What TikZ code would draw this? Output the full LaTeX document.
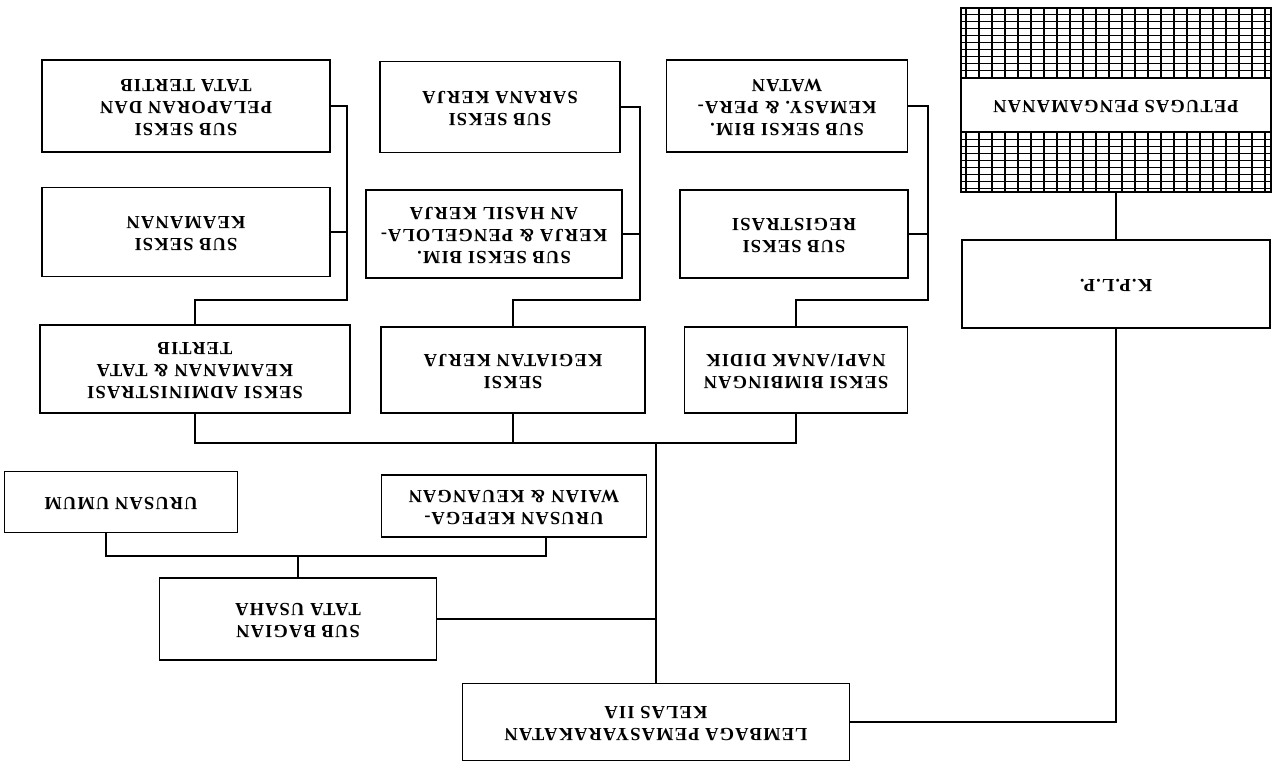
\documentclass[tikz,border=0pt]{standalone}
\usepackage{graphicx}
\usepackage{fontspec}
\newfontfamily\lab[LetterSpace=6]{Liberation Serif}
\renewcommand{\arraystretch}{1.0}
\newcommand{\ud}[1]{\rotatebox[origin=c]{180}{\begin{tabular}{@{}c@{}}#1\end{tabular}}}
\begin{document}
\begin{tikzpicture}[x=1pt,y=-1pt,
  box/.style={draw, line width=1.4pt, inner sep=0pt, fill=white,
    font=\lab\bfseries\fontsize{18.5}{22}\selectfont},
  conn/.style={line width=1.4pt}]
\useasboundingbox (0,0) rectangle (1287,771);
% ---- top row
\node[box, minimum width=288, minimum height=92] (pel) at (186,106) {\ud{SUB SEKSI\\PELAPORAN DAN\\TATA TERTIB}};
\node[box, minimum width=240, minimum height=91] (sar) at (500,107) {\ud{SUB SEKSI\\SARANA KERJA}};
\node[box, minimum width=241, minimum height=92] (kem) at (787,106) {\ud{SUB SEKSI BIM.\\KEMASY. \& PERA-\\WATAN}};
% petugas with grid
\node[draw, line width=1.4pt, minimum width=310, minimum height=184, inner sep=0pt] (pet) at (1116,100) {};
\begin{scope}
\clip (pet.north west) rectangle (pet.south east);
\foreach \x in {966,979,...,1270} \draw[line width=1.5pt] (\x,0) -- (\x,200);
\foreach \y in {14,21,...,78} \draw[line width=0.7pt] (950,\y) -- (1280,\y);
\foreach \y in {139,146,...,192} \draw[line width=0.7pt] (950,\y) -- (1280,\y);
\end{scope}
\node[box, minimum width=310, minimum height=54] (petl) at (pet.center |- 0,105) {\ud{PETUGAS PENGAMANAN}};
% ---- second row
\node[box, minimum width=288, minimum height=89] (kea) at (186,232) {\ud{SUB SEKSI\\KEAMANAN}};
\node[box, minimum width=256, minimum height=88] (bk) at (494,234) {\ud{SUB SEKSI BIM.\\KERJA \& PENGELOLA-\\AN HASIL KERJA}};
\node[box, minimum width=228, minimum height=88] (reg) at (794,234) {\ud{SUB SEKSI\\REGISTRASI}};
\node[box, minimum width=308, minimum height=88] (kplp) at (1116,284) {\ud{K.P.L.P.}};
% ---- seksi row
\node[box, minimum width=310, minimum height=88] (adm) at (195,369) {\ud{SEKSI ADMINISTRASI\\KEAMANAN \& TATA\\TERTIB}};
\node[box, minimum width=264, minimum height=86] (keg) at (513,370) {\ud{SEKSI\\KEGIATAN KERJA}};
\node[box, minimum width=223, minimum height=86] (bim) at (796,370) {\ud{SEKSI BIMBINGAN\\NAPI/ANAK DIDIK}};
% ---- urusan row
\node[box, minimum width=233, minimum height=61] (uu) at (121,502) {\ud{URUSAN UMUM}};
\node[box, minimum width=265, minimum height=62] (kp) at (514,506) {\ud{URUSAN KEPEGA-\\WAIAN \& KEUANGAN}};
% ---- sub bagian and lembaga
\node[box, minimum width=277, minimum height=82] (sb) at (298,619) {\ud{SUB BAGIAN\\TATA USAHA}};
\node[box, minimum width=387, minimum height=77] (lem) at (656,722) {\ud{LEMBAGA PEMASYARAKATAN\\KELAS IIA}};
% ---- junction coordinates
\coordinate (jL) at (347,300);
\coordinate (jM) at (640,300);
\coordinate (jR) at (928,300);
\coordinate (bus) at (656,443);
\coordinate (u1) at (106,556);
\coordinate (u2) at (546,556);
% ---- connectors
\draw[conn] (pel.east) -| (jL) -| (adm.north);
\draw[conn] (kea.east) -- (kea.east -| jL);
\draw[conn] (sar.east) -| (jM) -| (keg.north);
\draw[conn] (bk.east) -- (bk.east -| jM);
\draw[conn] (kem.east) -| (jR) -| (bim.north);
\draw[conn] (reg.east) -- (reg.east -| jR);
\draw[conn] (adm.south) -- (adm.south |- bus) -- (bim.south |- bus) -- (bim.south);
\draw[conn] (keg.south) -- (keg.south |- bus);
\draw[conn] (bus) -- (lem.north);
\draw[conn] (sb.east) -- (sb.east -| bus);
\draw[conn] (uu.south -| u1) -- (u1) -- (u2) -- (kp.south -| u2);
\draw[conn] (sb.north) -- (sb.north |- u1);
\draw[conn] (pet.south) -- (kplp.north);
\draw[conn] (lem.east) -| (kplp.south);
\end{tikzpicture}
\end{document}
